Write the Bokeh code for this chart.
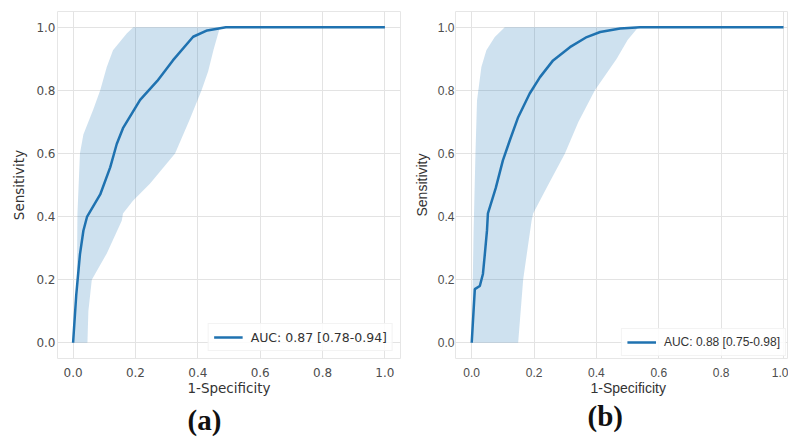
from bokeh.plotting import figure
from bokeh.layouts import row
from bokeh.models import Range1d, FixedTicker, PrintfTickFormatter, Title
from bokeh.embed import file_html
from bokeh.resources import INLINE

# ---- data ----
ticks = [0.0, 0.2, 0.4, 0.6, 0.8, 1.0]

# panel (a)
fpr_a = [0, 0.01, 0.022, 0.033, 0.045, 0.087, 0.119, 0.14, 0.16, 0.215, 0.27, 0.32, 0.385, 0.43, 0.49, 1.0]
tpr_a = [0, 0.15, 0.28, 0.355, 0.40, 0.47, 0.556, 0.63, 0.68, 0.77, 0.83, 0.895, 0.97, 0.99, 1.0, 1.0]
upper_x_a = [0, 0.006, 0.012, 0.014, 0.022, 0.033, 0.065, 0.087, 0.108, 0.128, 0.172, 0.193]
upper_y_a = [0, 0.10, 0.20, 0.41, 0.60, 0.66, 0.74, 0.80, 0.874, 0.927, 0.98, 1.0]
lower_x_a = [0, 0.046, 0.049, 0.06, 0.108, 0.156, 0.16, 0.192, 0.247, 0.327, 0.375, 0.412, 0.433, 0.45, 0.471]
lower_y_a = [0, 0, 0.10, 0.20, 0.283, 0.387, 0.41, 0.45, 0.505, 0.60, 0.71, 0.80, 0.86, 0.927, 1.0]
label_a = "AUC: 0.87 [0.78-0.94]"

# panel (b)
fpr_b = [0, 0.01, 0.026, 0.036, 0.042, 0.049, 0.052, 0.077, 0.10, 0.122, 0.149, 0.186, 0.219, 0.261, 0.315, 0.369, 0.412, 0.476, 0.54, 1.0]
tpr_b = [0, 0.17, 0.18, 0.218, 0.28, 0.356, 0.41, 0.49, 0.578, 0.641, 0.715, 0.79, 0.842, 0.895, 0.937, 0.969, 0.985, 0.996, 1.0, 1.0]
upper_x_b = [0, 0.006, 0.012, 0.017, 0.031, 0.047, 0.074, 0.106]
upper_y_b = [0, 0.35, 0.60, 0.768, 0.874, 0.927, 0.969, 1.0]
lower_x_b = [0, 0.149, 0.165, 0.192, 0.197, 0.245, 0.299, 0.342, 0.395, 0.465, 0.50, 0.534]
lower_y_b = [0, 0, 0.20, 0.387, 0.41, 0.50, 0.60, 0.70, 0.80, 0.90, 0.96, 1.0]
label_b = "AUC: 0.88 [0.75-0.98]"

LINE = "#1f72b0"
GRID = "#e3e3e3"


def make_panel(width, x_start, x_end, min_left, min_right, font, tick_size, label_size,
               fpr, tpr, ux, uy, lx, ly, leg, leg_size, leg_margin, tick_standoff, ylab_standoff):
    p = figure(width=width, height=440, output_backend="svg", toolbar_location=None,
               x_range=Range1d(x_start, x_end), y_range=Range1d(-0.05, 1.05),
               min_border_left=min_left, min_border_right=min_right,
               min_border_top=11, min_border_bottom=82)
    p.outline_line_color = "#e6e6e6"
    p.background_fill_color = "white"
    p.border_fill_color = "white"
    for ax in (p.xaxis[0], p.yaxis[0]):
        ax.ticker = FixedTicker(ticks=ticks)
        ax.formatter = PrintfTickFormatter(format="%.1f")
        ax.axis_line_color = None
        ax.major_tick_line_color = None
        ax.minor_tick_line_color = None
        ax.major_tick_out = 0
        ax.major_tick_in = 0
        ax.major_label_text_font = font
        ax.major_label_text_font_size = tick_size
        ax.major_label_text_color = "#4d4d4d"
        ax.axis_label_text_font = font
        ax.axis_label_text_font_size = label_size
        ax.axis_label_text_font_style = "normal"
        ax.axis_label_text_color = "#333333"
    p.yaxis[0].major_label_standoff = tick_standoff
    p.xaxis[0].major_label_standoff = 9
    p.yaxis[0].axis_label = "Sensitivity"
    p.yaxis[0].axis_label_standoff = ylab_standoff
    p.xaxis[0].axis_label_standoff = 0
    p.xgrid.grid_line_color = GRID
    p.ygrid.grid_line_color = GRID
    p.xgrid.ticker = FixedTicker(ticks=ticks)
    p.ygrid.ticker = FixedTicker(ticks=ticks)

    xs = list(ux) + list(reversed(lx))
    ys = list(uy) + list(reversed(ly))
    p.patch(xs, ys, fill_color="#1f77b4", fill_alpha=0.22, line_color=None)
    p.line(fpr, tpr, line_color=LINE, line_width=2.5, legend_label=leg)

    lg = p.legend[0]
    lg.location = "bottom_right"
    lg.margin = leg_margin
    lg.padding = 5
    lg.spacing = 0
    lg.glyph_width = 29
    lg.glyph_height = 16
    lg.label_height = 16
    lg.label_standoff = 8
    lg.label_text_font = font
    lg.label_text_font_size = leg_size
    lg.label_text_color = "#333333"
    lg.border_line_color = "#e8e8e8"
    lg.background_fill_color = "white"
    lg.background_fill_alpha = 0.85
    return p


pa = make_panel(408, -0.05, 1.05, 57, 8, "DejaVu Sans", "12px", "13.5px",
                fpr_a, tpr_a, upper_x_a, upper_y_a, lower_x_a, lower_y_a,
                label_a, "12.5px", 7, 2, 6)
pa.xaxis[0].axis_label = "1-Specificity"

pb = make_panel(380, -0.052, 1.016, 47, 0, "Liberation Sans", "12px", "14px",
                fpr_b, tpr_b, upper_x_b, upper_y_b, lower_x_b, lower_y_b,
                label_b, "12px", 2, 1, 5)
pb.add_layout(Title(text="1-Specificity", align="left", offset=135, standoff=-3,
                    text_font="Liberation Sans", text_font_size="14px",
                    text_font_style="normal", text_color="#333333"), "below")

for p, off, txt in ((pa, 130, "(a)"), (pb, 132, "(b)")):
    p.add_layout(Title(text=txt, align="left", offset=off, standoff=6,
                       text_font="Liberation Serif", text_font_size="29px",
                       text_font_style="bold", text_color="#111111"), "below")

layout = row(pa, pb)
open("out.html", "w").write(file_html(layout, INLINE))
